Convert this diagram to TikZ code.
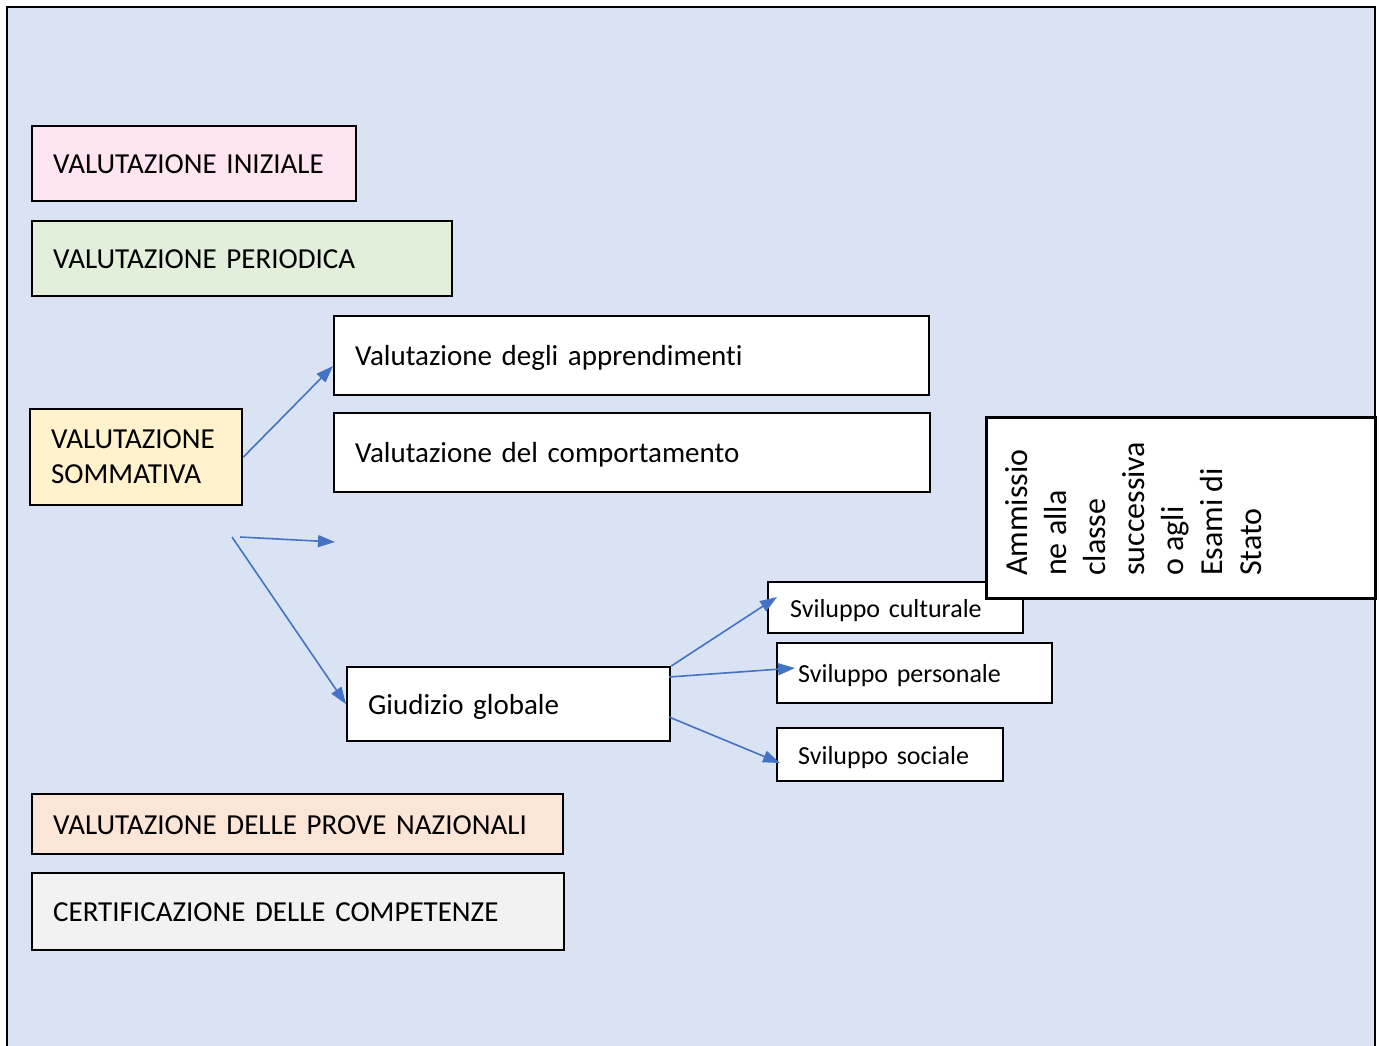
\documentclass[tikz,border=0pt]{standalone}
\usepackage{fontspec}
\setmainfont{Carlito}[Ligatures=CommonOff]
\usetikzlibrary{arrows.meta}
\definecolor{bgblue}{HTML}{DAE3F3}
\definecolor{pinkbox}{HTML}{FFE5F0}
\definecolor{greenbox}{HTML}{E2EFDA}
\definecolor{yellowbox}{HTML}{FFF2CC}
\definecolor{peachbox}{HTML}{FBE5D6}
\definecolor{graybox}{HTML}{F2F2F2}
\definecolor{linkblue}{HTML}{4472C4}
\tikzset{box/.style = {draw, fill=white, line width=2.3pt, anchor=north west, align=left,
                       inner xsep=21pt, inner ysep=0pt, text height=24pt, text depth=4pt,
                       font=\fontsize{29}{35}\selectfont},
         smallbox/.style = {box, text height=22pt, text depth=3pt, font=\fontsize{26}{31}\selectfont},
         link/.style = {draw=linkblue, line width=1.6pt, -{Triangle[length=17pt,width=12pt]}}}

\begin{document}
\begin{tikzpicture}[x=1pt, y=-1pt]
    \useasboundingbox (0,0) rectangle (1380,1045);
    \draw[line width=2.5pt, fill=bgblue] (7,7) rectangle (1375,1060);

    % left column
    \node [box, fill=pinkbox, minimum width=324, minimum height=75, text width=282]   (ini)  at ( 31, 125) {VALUTAZIONE INIZIALE};
    \node [box, fill=greenbox, minimum width=420, minimum height=75, text width=378]  (per)  at ( 31, 220) {VALUTAZIONE PERIODICA};
    \node [box, fill=yellowbox, minimum width=212, minimum height=96, text width=170,
           text height=, text depth=] (somm) at ( 29, 408) {VALUTAZIONE\\SOMMATIVA};
    \node [box, fill=peachbox, minimum width=531, minimum height=60, text width=489]  (naz)  at ( 31, 793) {VALUTAZIONE DELLE PROVE NAZIONALI};
    \node [box, fill=graybox, minimum width=532, minimum height=77, text width=490]   (cert) at ( 31, 872) {CERTIFICAZIONE DELLE COMPETENZE};

    % middle column
    \node [box, minimum width=595, minimum height=79, text width=553] (app)  at (333, 315) {Valutazione degli apprendimenti};
    \node [box, minimum width=596, minimum height=79, text width=554] (comp) at (333, 412) {Valutazione del comportamento};
    \node [box, minimum width=323, minimum height=74, text width=281] (giu)  at (346, 666) {Giudizio globale};

    % right column
    \node [smallbox, inner xsep=22pt, minimum width=255, minimum height=51, text width=211] (cul)  at (767, 581) {Sviluppo culturale};
    \node [smallbox, minimum width=275, minimum height=60, text width=233] (pers) at (776, 642) {Sviluppo personale};
    \node [smallbox, minimum width=226, minimum height=53, text width=184] (soc)  at (776, 727) {Sviluppo sociale};

    \node [box, line width=3pt, minimum width=389, minimum height=181] (amm) at (985, 416) {};
    \node [rotate=90, anchor=north west, align=left, inner sep=0pt,
           font=\fontsize{32}{39}\selectfont] (ammtext) at (1005, 576)
          {Ammissio\\ne alla\\classe\\successiva\\o agli\\Esami di\\Stato};

    % connectors
    \coordinate (appin)  at (333, 366);
    \coordinate (free1)  at (240, 537);
    \coordinate (free1e) at (335, 542);
    \coordinate (free2)  at (232, 537);
    \coordinate (culin)  at (777, 597);
    \coordinate (giuout) at (669, 677);
    \coordinate (persin) at (795, 668);
    \coordinate (giubot) at (669, 717);
    \coordinate (socin)  at (780, 763);

    \draw [link] (somm.east) -- (appin);
    \draw [link] (free1) -- (free1e);
    \draw [link] (free2) -- (giu.west);
    \draw [link] (giu.north east) -- (culin);
    \draw [link] (giuout) -- (persin);
    \draw [link] (giubot) -- (socin);
\end{tikzpicture}
\end{document}
